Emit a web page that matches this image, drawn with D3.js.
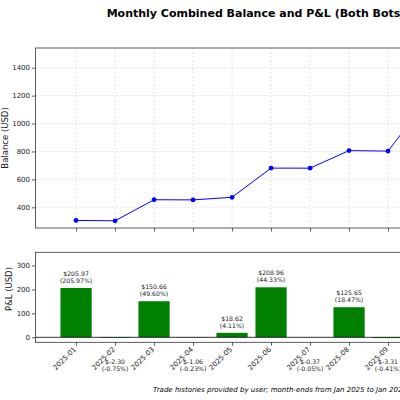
<!DOCTYPE html>
<html>
<head>
<meta charset="utf-8">
<script src="https://cdn.jsdelivr.net/npm/d3@7"></script>
<style>
  body { margin: 0; background: #fff; }
  svg { display: block; font-family: "DejaVu Sans", sans-serif; }
</style>
</head>
<body>
<div id="chart"></div>
<script>
// ---- data ----
const months = ['2025-01','2025-02','2025-03','2025-04','2025-05','2025-06','2025-07','2025-08','2025-09','2025-10']
const balance = [305.97, 303.67, 454.33, 453.27, 471.89, 680.85, 680.48, 806.13, 802.82, 1166]
const pnl = [205.97, -2.30, 150.66, -1.06, 18.62, 208.96, -0.37, 125.65, -3.31]
const pnlPct = [205.97, -0.75, 49.60, -0.23, 4.11, 44.33, -0.05, 18.47, -0.41]
const balanceTicks = [400, 600, 800, 1000, 1200, 1400]
const pnlTicks = [0, 100, 200, 300]

const W = 400, H = 400
const left = 35.5, right = 467.6
const top1 = 48, bot1 = 228
const top2 = 252.3, bot2 = 342.3
const font = '"DejaVu Sans", sans-serif'
const ink = '#222'

const svg = d3.select('#chart').append('svg')
  .attr('width', W).attr('height', H)

const x = d3.scaleLinear().domain([-1.04, months.length - 1 + 1.04]).range([left, right])
const yBal = d3.scaleLinear().domain([252, 1541]).range([bot1, top1])
const yPnl = d3.scaleLinear().domain([-20.9, 355.2]).range([bot2, top2])

function styleAxis(g) {
  g.select('.domain').remove()
  g.selectAll('.tick line').attr('stroke', '#333').attr('stroke-width', 0.8)
  g.selectAll('.tick text').attr('fill', ink).attr('font-size', '7px').attr('font-family', font)
}

// Title
svg.append('text')
  .attr('x', 256).attr('y', 16.5)
  .attr('text-anchor', 'middle')
  .attr('font-size', '11px').attr('font-weight', 'bold')
  .attr('fill', '#000')
  .text('Monthly Combined Balance and P&L (Both Bots)')

// ---- top panel: balance ----
const idx = d3.range(months.length)

// grid
svg.append('g').selectAll('line').data(idx).join('line')
  .attr('x1', d => x(d)).attr('x2', d => x(d))
  .attr('y1', top1).attr('y2', bot1)
  .attr('stroke', '#d0d0d0').attr('stroke-width', 0.6).attr('stroke-dasharray', '2,2')
svg.append('g').selectAll('line').data(balanceTicks).join('line')
  .attr('x1', left).attr('x2', right)
  .attr('y1', d => yBal(d)).attr('y2', d => yBal(d))
  .attr('stroke', '#d0d0d0').attr('stroke-width', 0.6).attr('stroke-dasharray', '2,2')

svg.append('g')
  .attr('transform', `translate(${left},0)`)
  .call(d3.axisLeft(yBal).tickValues(balanceTicks).tickFormat(d3.format('d')).tickSize(3.5).tickPadding(2))
  .call(styleAxis)

svg.append('g')
  .attr('transform', `translate(0,${bot1})`)
  .call(d3.axisBottom(x).tickValues(idx).tickSize(3.5).tickFormat(''))
  .call(styleAxis)

svg.append('rect')
  .attr('x', left).attr('y', top1).attr('width', right - left).attr('height', bot1 - top1)
  .attr('fill', 'none').attr('stroke', '#333').attr('stroke-width', 0.8)

svg.append('path')
  .datum(balance)
  .attr('fill', 'none').attr('stroke', '#0000ff').attr('stroke-width', 1)
  .attr('d', d3.line().x((d, i) => x(i)).y(d => yBal(d)))

svg.append('g').selectAll('circle').data(balance).join('circle')
  .attr('cx', (d, i) => x(i)).attr('cy', d => yBal(d))
  .attr('r', 2.4).attr('fill', '#0000ff')

svg.append('text')
  .attr('transform', `translate(8,${(top1 + bot1) / 2}) rotate(-90)`)
  .attr('text-anchor', 'middle')
  .attr('font-size', '8.5px').attr('fill', ink)
  .text('Balance (USD)')

// ---- bottom panel: P&L ----
const bw = (x(0.8) - x(0))

svg.append('g').selectAll('rect').data(pnl).join('rect')
  .attr('x', (d, i) => x(i) - bw / 2)
  .attr('y', d => yPnl(Math.max(0, d)))
  .attr('width', bw)
  .attr('height', d => Math.abs(yPnl(d) - yPnl(0)))
  .attr('fill', '#008000')

svg.append('line')
  .attr('x1', left).attr('x2', right)
  .attr('y1', yPnl(0)).attr('y2', yPnl(0))
  .attr('stroke', '#000').attr('stroke-width', 0.8)

svg.append('g')
  .attr('transform', `translate(${left},0)`)
  .call(d3.axisLeft(yPnl).tickValues(pnlTicks).tickSize(3.5).tickPadding(2))
  .call(styleAxis)

svg.append('g')
  .attr('transform', `translate(0,${bot2})`)
  .call(d3.axisBottom(x).tickValues(idx).tickSize(3.5).tickFormat(''))
  .call(styleAxis)

svg.append('rect')
  .attr('x', left).attr('y', top2).attr('width', right - left).attr('height', bot2 - top2)
  .attr('fill', 'none').attr('stroke', '#333').attr('stroke-width', 0.8)

// rotated month labels
svg.append('g').selectAll('text').data(idx).join('text')
  .attr('transform', d => `translate(${x(d) + 0.5},${bot2 + 7.5}) rotate(-45)`)
  .attr('text-anchor', 'end')
  .attr('font-size', '7px').attr('fill', ink)
  .text(d => months[d])

// value labels
const labels = svg.append('g').selectAll('text').data(pnl).join('text')
  .attr('text-anchor', 'middle')
  .attr('font-size', '6.2px').attr('fill', ink)
labels.each(function (d, i) {
  const t = d3.select(this)
  const cx = x(i)
  const y0 = d >= 0 ? yPnl(d) - 12 : 364
  t.append('tspan').attr('x', cx).attr('y', y0).text(`$${d.toFixed(2)}`)
  t.append('tspan').attr('x', cx).attr('y', y0 + 7).text(`(${pnlPct[i].toFixed(2)}%)`)
})

svg.append('text')
  .attr('transform', `translate(12,289) rotate(-90)`)
  .attr('text-anchor', 'middle')
  .attr('font-size', '8.5px').attr('fill', ink)
  .text('P&L (USD)')

// footnote
svg.append('text')
  .attr('x', 153).attr('y', 392)
  .attr('font-size', '7px').attr('font-style', 'italic').attr('fill', '#000')
  .text('Trade histories provided by user; month-ends from Jan 2025 to Jan 2026')
</script>
</body>
</html>
